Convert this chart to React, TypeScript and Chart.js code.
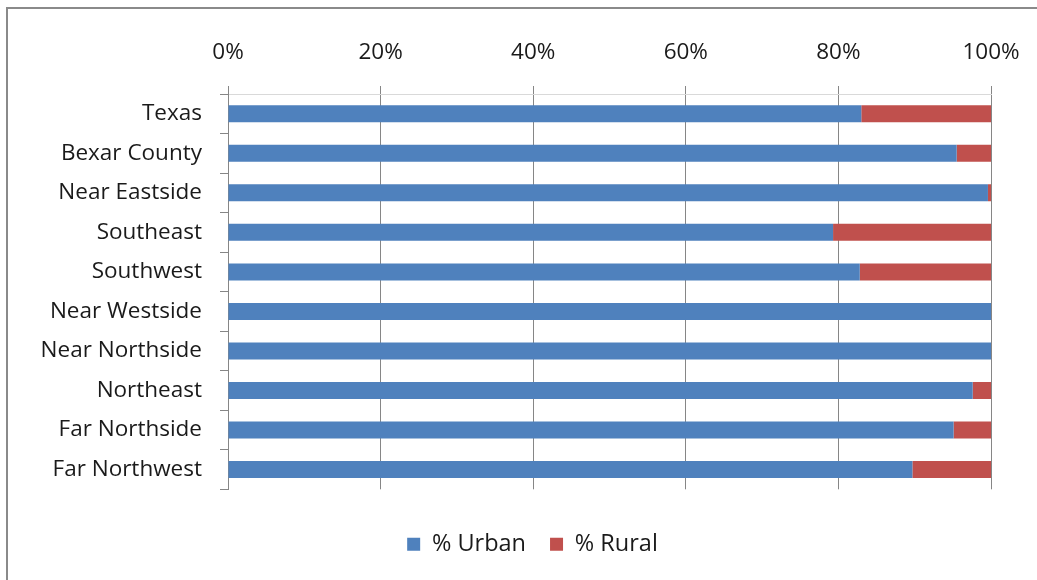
import React, { useEffect, useRef } from "react";
import { Chart, registerables } from "chart.js";

Chart.register(...registerables);

const categories = [
  "Texas",
  "Bexar County",
  "Near Eastside",
  "Southeast",
  "Southwest",
  "Near Westside",
  "Near Northside",
  "Northeast",
  "Far Northside",
  "Far Northwest",
];
const urban = [83.0, 95.5, 99.6, 79.3, 82.8, 100, 100, 97.6, 95.1, 89.7];
const rural = [17.0, 4.5, 0.4, 20.7, 17.2, 0, 0, 2.4, 4.9, 10.3];
const xTicks = [0, 20, 40, 60, 80, 100];

const FONT = "'Open Sans', sans-serif";
const FS = 22.5;

const shiftLegend = {
  id: "shiftLegend",
  afterLayout(chart: any) {
    if (chart.legend) {
      chart.legend.left = 74;
    }
  },
};

export default function App() {
  const ref = useRef<HTMLCanvasElement | null>(null);

  useEffect(() => {
    document.body.style.margin = "0";
    const canvas = ref.current;
    if (!canvas) return;
    const chart = new Chart(canvas, {
      type: "bar",
      data: {
        labels: categories,
        datasets: [
          { label: "% Urban", data: urban, backgroundColor: "#4F81BD", barPercentage: 0.43, categoryPercentage: 1 },
          { label: "% Rural", data: rural, backgroundColor: "#C0504D", barPercentage: 0.43, categoryPercentage: 1 },
        ],
      },
      options: {
        indexAxis: "y",
        animation: false,
        responsive: false,
        maintainAspectRatio: false,
        layout: { padding: { left: 0, right: 46, top: 0, bottom: 14 } },
        scales: {
          x: {
            position: "top",
            stacked: true,
            min: 0,
            max: 100,
            afterFit: (s: any) => {
              s.height = 94;
              s.paddingLeft = 0;
              s.paddingRight = 0;
            },
            afterBuildTicks: (s: any) => { s.ticks = xTicks.map((v) => ({ value: v })); },
            ticks: {
              callback: (v: any) => v + "%",
              font: { family: FONT, size: FS },
              color: "#1a1a1a",
              padding: 20,
              maxRotation: 0,
            },
            grid: { color: "#868686", tickLength: 8, drawTicks: true },
            border: { color: "#d9d9d9" },
          },
          y: {
            stacked: true,
            afterFit: (s: any) => { s.width = 228; },
            ticks: {
              font: { family: FONT, size: FS },
              color: "#1a1a1a",
              padding: 18,
            },
            grid: { drawOnChartArea: false, drawTicks: true, tickLength: 8, color: "#868686", offset: true },
            border: { color: "#868686" },
          },
        },
        plugins: {
          legend: {
            position: "bottom",
            title: { display: true, text: " ", font: { size: 1 }, padding: { top: 0, bottom: 18 } },
            labels: {
              font: { family: FONT, size: 23.5 },
              color: "#1a1a1a",
              boxWidth: 13,
              boxHeight: 13,
              padding: 24,
            },
          },
          tooltip: { enabled: false },
        },
      },
      plugins: [shiftLegend],
    });
    return () => chart.destroy();
  }, []);

  return (
    <div style={{ position: "relative", width: 1037, height: 580, overflow: "hidden", background: "#fff" }}>
      <div
        style={{
          position: "absolute",
          left: 6,
          top: 7,
          width: 1100,
          height: 700,
          borderLeft: "2px solid #8a8a8a",
          borderTop: "2px solid #8a8a8a",
        }}
      />
      <canvas ref={ref} width={1037} height={580} style={{ position: "absolute", left: 0, top: 0 }} />
    </div>
  );
}
